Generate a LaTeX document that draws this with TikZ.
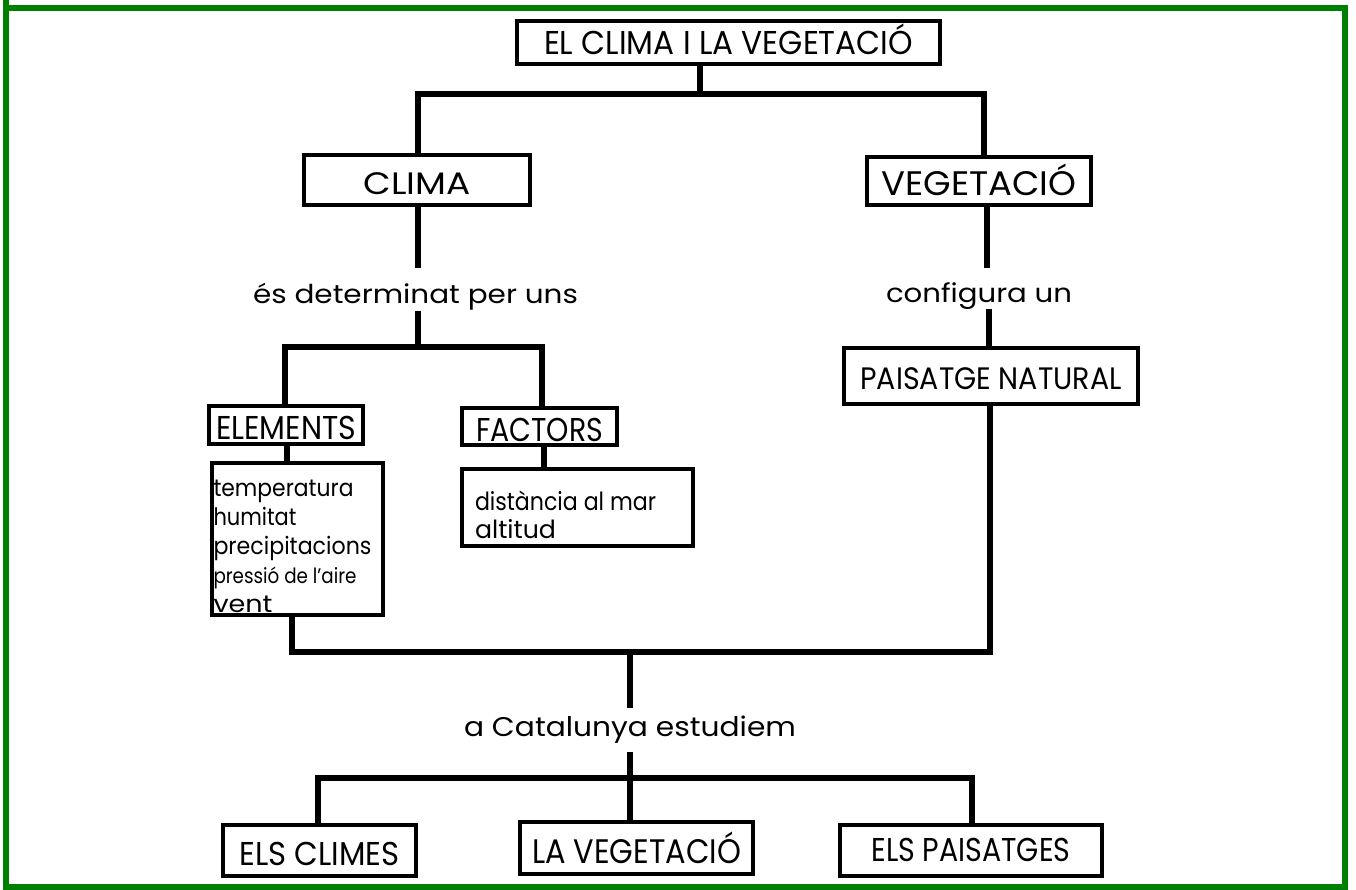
\documentclass[tikz,border=0pt]{standalone}
\usepackage{fontspec}
\usepackage{graphicx}
\setmainfont{Poppins}
\definecolor{framegreen}{RGB}{0,128,0}
\newcommand\fw[2]{\resizebox{#1}{\height}{#2}}
\begin{document}
\begin{tikzpicture}[x=1pt,y=-1pt,
  box/.style={draw=black, line width=4pt, inner sep=0pt, text depth=0pt, fill=white},
  listbox/.style={draw=black, line width=4pt, inner sep=0pt, fill=white},
  conn/.style={line width=5.5pt, black},
  lbl/.style={inner sep=0pt, anchor=base, font=\fontsize{26}{30}\selectfont}]
\fill[white] (0,0) rectangle (1356,890);
\useasboundingbox (0,0) rectangle (1356,890);
\draw[framegreen, line width=6pt] (6,8) rectangle (1344.5,887);
\draw[framegreen, line width=6pt] (6,0) -- (6,8);

% boxes
\node[box, minimum width=423pt, minimum height=43pt, text height=23.1pt, font=\fontsize{33}{36}\selectfont] (top) at (728.5,42.5) {\fw{369pt}{EL CLIMA I LA VEGETACIÓ}\hspace{20pt}};
\node[box, minimum width=226pt, minimum height=50pt, text height=28.7pt, font=\fontsize{31}{34}\selectfont] (clima) at (417,180) {\fw{107pt}{CLIMA}\hspace{31pt}};
\node[box, minimum width=224pt, minimum height=48pt, text height=29.8pt, font=\fontsize{34}{38}\selectfont] (veg) at (979,181) {\fw{195pt}{VEGETACIÓ}};
\node[box, minimum width=154pt, minimum height=38pt, text height=28.1pt, font=\fontsize{33}{36}\selectfont] (elem) at (286,425) {\fw{140pt}{ELEMENTS}\hspace{4pt}};
\node[box, minimum width=155pt, minimum height=37pt, text height=30.1pt, font=\fontsize{33}{36}\selectfont] (fact) at (539.5,426.5) {\fw{127pt}{FACTORS}\hspace{8pt}};
\node[box, minimum width=294pt, minimum height=56pt, text height=27.7pt, font=\fontsize{31}{34}\selectfont] (pais) at (991,376) {\fw{261pt}{PAISATGE NATURAL}};
\node[box, minimum width=193pt, minimum height=51pt, text height=30pt, font=\fontsize{33}{36}\selectfont] (b1) at (319.5,850.5) {\fw{160pt}{ELS CLIMES}\hspace{13pt}};
\node[box, minimum width=233pt, minimum height=52pt, text height=31pt, font=\fontsize{34}{38}\selectfont] (b2) at (636.5,848) {\fw{209pt}{LA VEGETACIÓ}};
\node[box, minimum width=262pt, minimum height=51pt, text height=21.1pt, font=\fontsize{33}{36}\selectfont] (b3) at (971,850.5) {\fw{199pt}{ELS PAISATGES}\hspace{13pt}};

\node[listbox] (list) at (297,539) {\parbox[c][152pt][t]{171pt}{\leftskip=2pt \fontsize{24}{29}\selectfont\rule{0pt}{33pt}\fw{140pt}{temperatura}\\ \fw{83pt}{humitat}\\ \fw{158pt}{precipitacions}\\ {\fontsize{21}{29}\selectfont\fw{143pt}{pressió de l'aire}}\\ \fw{59pt}{vent}}};
\node[listbox] (facts) at (577.5,507.5) {\parbox[c][77pt][t]{231pt}{\leftskip=13pt \fontsize{25}{28}\selectfont\rule{0pt}{41pt}\fw{181pt}{distància al mar}\\ \fw{81pt}{altitud}}};

% labels
\node[lbl, text height=36pt, text depth=7pt] (txt1) at (415.5,304) {\fw{325pt}{és determinat per uns}};
\node[lbl, text height=35pt, text depth=6pt] (conf) at (979,303) {\fw{186pt}{configura un}};
\node[lbl, font=\fontsize{27}{32}\selectfont, text height=28pt, text depth=16pt] (cat) at (630,736) {\fw{332pt}{a Catalunya estudiem}};

% junctions
\coordinate (j1) at (700,94);
\coordinate (j2) at (418,347);
\coordinate (j3) at (630,652);
\coordinate (j4) at (630,778);

% connectors
\draw[conn] (top.south -| j1) -- (j1);
\draw[conn] (clima.north -| 418,0) |- (j1) -| (veg.north -| 984,0);
\draw[conn] (clima.south -| 418,0) -- (txt1.north -| 418,0);
\draw[conn] (txt1.south -| j2) -- (j2);
\draw[conn] (elem.north -| 285,0) |- (j2) -| (fact.north -| 542,0);
\draw[conn] (elem.south -| 287,0) -- (list.north -| 287,0);
\draw[conn] (fact.south -| 544,0) -- (facts.north -| 544,0);
\draw[conn] (veg.south -| 987,0) -- (conf.north -| 987,0);
\draw[conn] (conf.south -| 989,0) -- (pais.north -| 989,0);
\draw[conn] (list.south -| 292,0) |- (j3) -| (pais.south -| 990,0);
\draw[conn] (j3) -- (cat.north -| j3);
\draw[conn] (cat.south -| j3) -- (j4);
\draw[conn] (b1.north -| 318,0) |- (j4) -| (b3.north -| 972,0);
\draw[conn] (j4) -- (b2.north -| j4);
\end{tikzpicture}
\end{document}
